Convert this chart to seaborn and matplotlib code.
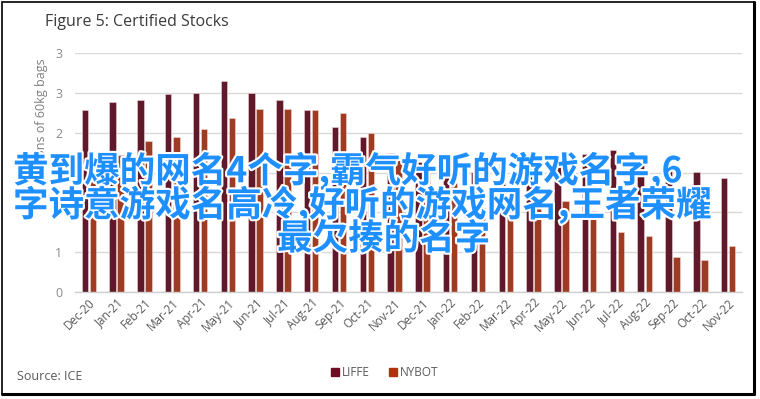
import matplotlib
matplotlib.use('Agg')
import matplotlib.pyplot as plt
import matplotlib.patheffects as pe
from matplotlib.patches import Rectangle
from matplotlib.lines import Line2D
import seaborn as sns
import pandas as pd

months = ['Dec-20', 'Jan-21', 'Feb-21', 'Mar-21', 'Apr-21', 'May-21', 'Jun-21', 'Jul-21',
          'Aug-21', 'Sep-21', 'Oct-21', 'Nov-21', 'Dec-21', 'Jan-22', 'Feb-22', 'Mar-22',
          'Apr-22', 'May-22', 'Jun-22', 'Jul-22', 'Aug-22', 'Sep-22', 'Oct-22', 'Nov-22']
liffe = [2.28, 2.38, 2.41, 2.48, 2.50, 2.65, 2.50, 2.41, 2.29, 2.07, 1.95, 1.75,
         1.63, 1.50, 1.51, 1.61, 1.67, 1.66, 1.73, 1.78, 1.59, 1.55, 1.51, 1.43]
nybot = [1.50, 1.72, 1.90, 1.95, 2.05, 2.18, 2.30, 2.30, 2.29, 2.25, 1.99, 1.69,
         1.55, 1.37, 1.05, 1.08, 1.10, 1.14, 1.02, 0.75, 0.70, 0.44, 0.40, 0.58]
series_names = ['LIFFE', 'NYBOT']
ytick_values = [0, 0.5, 1, 1.5, 2, 2.5, 3]
ytick_labels = ['0', '1', '1', '2', '2', '3', '3']
title = 'Figure 5: Certified Stocks'
ylabel = 'Millions of 60kg bags'
source = 'Source: ICE'
overlay_lines = ['黄到爆的网名4个字,霸气好听的游戏名字,6',
                 '字诗意游戏名高冷,好听的游戏网名,王者荣耀',
                 '最欠揍的名字']

colors = {'LIFFE': '#6B0D24', 'NYBOT': '#B3300E'}

sns.set_theme(style='white')
plt.rcParams['font.family'] = ['Open Sans', 'DejaVu Sans']

df = pd.DataFrame({
    'Month': months * 2,
    'Value': liffe + nybot,
    'Series': [series_names[0]] * len(months) + [series_names[1]] * len(months),
})

W, H = 760, 399
fig = plt.figure(figsize=(W / 100, H / 100), dpi=100)
ax = fig.add_axes([75 / W, 107 / H, 667 / W, 239 / H])

sns.barplot(data=df, x='Month', y='Value', hue='Series', order=months,
            hue_order=series_names, palette=colors, width=0.58, gap=0.2,
            edgecolor='#f2d4d4', linewidth=0.4, ax=ax, legend=False)

ax.set_xlim(-0.5, len(months) - 0.5)
ax.set_ylim(0, 3)
ax.set_yticks(ytick_values)
ax.set_yticklabels(ytick_labels)
ax.set_xlabel('')
ax.set_ylabel('')
ax.yaxis.grid(True, color='#d9d9d9', linewidth=1)
ax.set_axisbelow(True)
for s in ['top', 'right', 'left']:
    ax.spines[s].set_visible(False)
ax.spines['bottom'].set_color('#d0d0d0')
ax.spines['bottom'].set_linewidth(1)
ax.tick_params(axis='y', length=0, pad=9, labelsize=9, labelcolor='#8a8a8a')
ax.tick_params(axis='x', length=0, pad=3, labelsize=8.4, labelcolor='#595959')
for lbl in ax.get_xticklabels():
    lbl.set_rotation(45)
    lbl.set_ha('right')
    lbl.set_rotation_mode('anchor')

fig.text(45 / W, 1 - 22 / H, title, ha='left', va='center', fontsize=11.5, color='#3a3a3a')
fig.text(42 / W, 1 - 120 / H, ylabel, ha='center', va='center', rotation=90,
         fontsize=9, color='#7f7f7f')
fig.text(17 / W, 1 - 377 / H, source, ha='left', va='center', fontsize=9, color='#595959')

handles = [Rectangle((0, 0), 1, 1, color=colors[n]) for n in series_names]
fig.legend(handles, series_names, loc='center', bbox_to_anchor=(385 / W, 1 - 373 / H),
           ncol=2, frameon=False, handlelength=0.65, handleheight=0.65,
           handletextpad=0.3, columnspacing=1.6, fontsize=8.5, labelcolor='#595959')

# overlay text
stroke = [pe.withStroke(linewidth=3, foreground='white')]
ov_pos = [(13, 171), (13, 205), (277, 239)]
for line, (x, y) in zip(overlay_lines, ov_pos):
    fig.text(x / W, 1 - y / H, line, ha='left', va='center', fontsize=25.6,
             color='#1E8FFF', family=['Noto Sans CJK SC', 'DejaVu Sans'],
             weight='bold', path_effects=stroke)

# border
fig.add_artist(Rectangle((2 / W, 5 / H), 752 / W, 392 / H, transform=fig.transFigure,
                         fill=False, edgecolor='black', linewidth=1.2))
fig.add_artist(Line2D([754 / W, 754 / W], [5 / H, 397 / H], transform=fig.transFigure,
                      color='black', linewidth=2.2))
fig.add_artist(Line2D([2 / W, 754 / W], [5 / H, 5 / H], transform=fig.transFigure,
                      color='black', linewidth=2.2))

fig.savefig('out.png', dpi=100)
